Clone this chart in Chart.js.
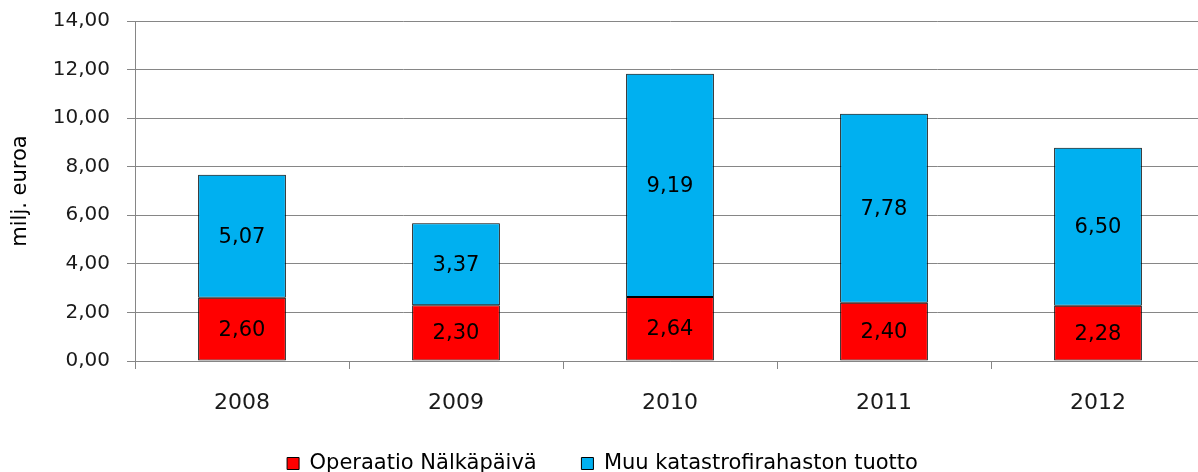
<!DOCTYPE html>
<html lang="fi">
<head>
<meta charset="UTF-8">
<title>Katastrofirahasto</title>
<style>
  body { margin: 0; overflow: hidden; background: #fff; }
</style>
</head>
<body>
<canvas id="chart" width="1206" height="472"></canvas>
<script src="https://cdn.jsdelivr.net/npm/chart.js@4.4.0/dist/chart.umd.min.js"></script>
<script>
  const years = ['2008', '2009', '2010', '2011', '2012']
  const nalkapaiva = [2.60, 2.30, 2.64, 2.40, 2.28]
  const muuTuotto = [5.07, 3.37, 9.19, 7.78, 6.50]
  const yTicks = [0, 2, 4, 6, 8, 10, 12, 14]

  const fi = v => v.toFixed(2).replace('.', ',')
  const FONT = 'DejaVu Sans'

  // value labels in the middle of each segment
  const barLabels = {
    id: 'barLabels',
    afterDatasetsDraw(chart) {
      const ctx = chart.ctx
      ctx.save()
      ctx.font = '21px "' + FONT + '"'
      ctx.fillStyle = '#000'
      ctx.textAlign = 'center'
      ctx.textBaseline = 'middle'
      chart.data.datasets.forEach((ds, i) => {
        chart.getDatasetMeta(i).data.forEach((bar, j) => {
          const p = bar.getCenterPoint()
          ctx.fillText(fi(ds.data[j]), p.x, p.y + 1)
        })
      })
      ctx.restore()
    }
  }

  const ctx = document.getElementById('chart').getContext('2d')
  const chart = new Chart(ctx, {
    type: 'bar',
    data: {
      labels: years,
      datasets: [{
        label: 'Operaatio Nälkäpäivä',
        data: nalkapaiva,
        backgroundColor: '#ff0000',
        borderColor: '#000',
        borderWidth: 1,
        borderSkipped: false
      }, {
        label: 'Muu katastrofirahaston tuotto',
        data: muuTuotto,
        backgroundColor: '#00b0f0',
        borderColor: '#000',
        borderWidth: 1,
        borderSkipped: false
      }]
    },
    options: {
      responsive: false,
      animation: false,
      layout: { padding: { top: 21, right: 1, bottom: -12, left: 0 } },
      datasets: { bar: { barPercentage: 0.41, categoryPercentage: 1 } },
      plugins: {
        tooltip: { enabled: false },
        legend: {
          position: 'bottom',
          labels: {
            font: { family: FONT, size: 21 },
            color: '#000',
            boxWidth: 12,
            boxHeight: 12,
            padding: 18,
            generateLabels: c => {
              const items = Chart.defaults.plugins.legend.labels.generateLabels(c)
              items[0].text += '    '
              return items
            }
          }
        }
      },
      scales: {
        x: {
          stacked: true,
          afterFit: s => { s.height = 74 },
          grid: { drawOnChartArea: false, drawTicks: true, tickLength: 8, offset: true, color: '#868686' },
          border: { display: true, color: '#868686' },
          ticks: { font: { family: FONT, size: 22 }, color: '#1a1a1a', padding: 21 }
        },
        y: {
          stacked: true,
          min: 0,
          max: 14,
          afterFit: s => {
            s.width = 135
            s.paddingTop = 0
            s.paddingBottom = 0
          },
          afterBuildTicks: s => { s.ticks = yTicks.map(v => ({ value: v })) },
          grid: { color: '#868686', tickLength: 8 },
          border: { display: true, color: '#868686' },
          ticks: {
            font: { family: FONT, size: 20 },
            color: '#1a1a1a',
            padding: 17,
            callback: v => fi(v)
          },
          title: {
            display: true,
            text: 'milj. euroa',
            font: { family: FONT, size: 21 },
            color: '#000',
            padding: { top: 8, bottom: 0 }
          }
        }
      }
    },
    plugins: [barLabels]
  })
</script>
</body>
</html>
